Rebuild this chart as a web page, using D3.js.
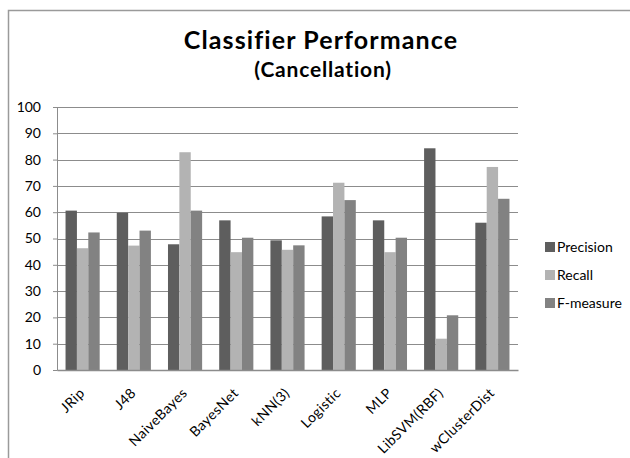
<!DOCTYPE html>
<html>
<head>
<meta charset="utf-8">
<script src="https://cdn.jsdelivr.net/npm/d3@7"></script>
<style>
  body { margin: 0; background: #fff; }
  text { font-family: Lato, "Open Sans", sans-serif; }
</style>
</head>
<body>
<div id="chart"></div>
<script>
// data
var categories = ['JRip', 'J48', 'NaiveBayes', 'BayesNet', 'kNN(3)', 'Logistic', 'MLP', 'LibSVM(RBF)', 'wClusterDist'];
var seriesNames = ['Precision', 'Recall', 'F-measure'];
var precision = [60.6, 59.8, 47.8, 56.9, 49.3, 58.4, 56.9, 84.3, 56.0];
var recall = [46.3, 47.3, 82.8, 44.8, 45.7, 71.2, 44.8, 11.9, 77.2];
var fmeasure = [52.3, 53.0, 60.6, 50.3, 47.4, 64.6, 50.3, 20.8, 65.1];
var yTicks = [0, 10, 20, 30, 40, 50, 60, 70, 80, 90, 100];

var colors = ['#5e5e5e', '#b3b3b3', '#828282'];
var series = [precision, recall, fmeasure];

var W = 630, H = 458;
var margin = { top: 107, right: 112, bottom: 88, left: 57 },
    width = W - margin.left - margin.right,
    height = H - margin.top - margin.bottom;

var svg = d3.select('#chart')
    .append('svg')
    .attr('width', W)
    .attr('height', H);

// chart frame (only top and left edges are visible)
svg.append('path')
    .attr('d', 'M8.5,' + H + 'V10.5H' + W)
    .attr('fill', 'none')
    .attr('stroke', '#9a9a9a')
    .attr('stroke-width', 1.5);

// title
svg.append('text')
    .attr('x', 321)
    .attr('y', 49)
    .attr('text-anchor', 'middle')
    .style('font-weight', 'bold')
    .style('font-size', '25px')
    .style('letter-spacing', '1.1px')
    .text('Classifier Performance');
svg.append('text')
    .attr('x', 323)
    .attr('y', 77)
    .attr('text-anchor', 'middle')
    .style('font-weight', 'bold')
    .style('font-size', '21px')
    .style('letter-spacing', '0.8px')
    .text('(Cancellation)');

var plot = svg.append('g')
    .attr('transform', `translate(${margin.left}, ${margin.top})`);

var x = d3.scaleBand()
    .domain(categories)
    .range([0, width]);

// gap width 150% of a bar
var x1 = d3.scaleBand()
    .domain(seriesNames)
    .range([x.bandwidth() * 0.75 / 4.5, x.bandwidth() * (1 - 0.75 / 4.5)]);

var y = d3.scaleLinear()
    .domain([0, 100])
    .range([height, 0]);

// gridlines
plot.append('g')
    .selectAll('line')
    .data(yTicks.slice(1))
    .enter()
    .append('line')
    .attr('x1', 0)
    .attr('x2', width)
    .attr('y1', d => Math.round(y(d)) + 0.5)
    .attr('y2', d => Math.round(y(d)) + 0.5)
    .attr('stroke', '#8c8c8c')
    .attr('stroke-width', 1);

// y axis
var yAxis = d3.axisLeft(y)
    .tickValues(yTicks)
    .tickSize(4)
    .tickPadding(12);
var gy = plot.append('g').call(yAxis);
gy.select('.domain').attr('stroke', '#8c8c8c');
gy.selectAll('.tick line').attr('stroke', '#8c8c8c');
gy.selectAll('.tick text')
    .style('font-size', '14px')
    .attr('fill', '#000');

// bars
var groups = plot.append('g')
    .selectAll('g')
    .data(categories)
    .enter()
    .append('g')
    .attr('transform', d => `translate(${x(d)}, 0)`);

groups.selectAll('rect')
    .data((d, i) => seriesNames.map((s, j) => ({ name: s, value: series[j][i], color: colors[j] })))
    .enter()
    .append('rect')
    .attr('x', d => x1(d.name))
    .attr('y', d => y(d.value))
    .attr('width', x1.bandwidth())
    .attr('height', d => height - y(d.value))
    .attr('fill', d => d.color);

// x axis
var xAxis = d3.axisBottom(x)
    .tickSize(0)
    .tickSizeOuter(0)
    .tickPadding(0);
var gx = plot.append('g')
    .attr('transform', `translate(0, ${height})`)
    .call(xAxis);
gx.select('.domain').attr('stroke', '#8c8c8c').attr('stroke-width', 1.5);
gx.selectAll('.tick text')
    .style('font-size', '14px')
    .style('letter-spacing', '0.4px')
    .attr('fill', '#000')
    .attr('text-anchor', 'end')
    .attr('dy', '0')
    .attr('transform', 'translate(3, 24) rotate(-45)');

// legend
var legend = svg.append('g')
    .attr('transform', 'translate(545, 247)');
var items = legend.selectAll('g')
    .data(seriesNames)
    .enter()
    .append('g')
    .attr('transform', (d, i) => `translate(0, ${i * 28})`);
items.append('rect')
    .attr('x', 0)
    .attr('y', -5)
    .attr('width', 10)
    .attr('height', 10)
    .attr('fill', (d, i) => colors[i]);
items.append('text')
    .attr('x', 12)
    .attr('y', 0)
    .attr('dy', '0.35em')
    .style('font-size', '14px')
    .text(d => d);
</script>
</body>
</html>
